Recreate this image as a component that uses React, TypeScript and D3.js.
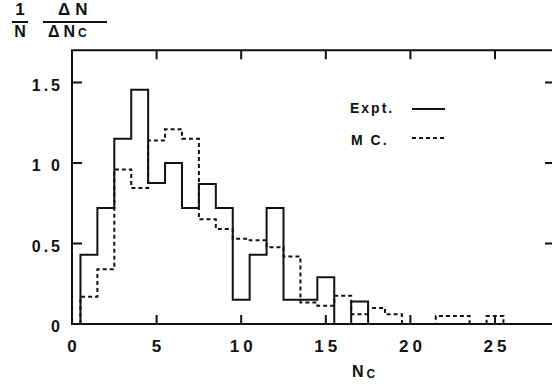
import { useEffect, useRef } from 'react';
import * as d3 from 'd3';

// bin i covers [i - 0.5, i + 0.5], starting at Nc = 1
const exptValues = [0.43, 0.72, 1.15, 1.455, 0.876, 1.0, 0.72, 0.87, 0.72, 0.15, 0.43, 0.72, 0.15, 0.15, 0.29, 0, 0.14];
const mcValues = [0.17, 0.34, 0.96, 0.845, 1.14, 1.21, 1.15, 0.65, 0.59, 0.53, 0.52, 0.476, 0.42, 0.134, 0.114, 0.176, 0.06, 0.1, 0.06, 0, 0, 0.05, 0.05, 0, 0.05];
const xTicks = [0, 5, 10, 15, 20, 25];
const yTicks = [0, 0.5, 1.0, 1.5];
const yTickLabels = ['0', '0.5', '1 0', '1.5'];

const FONT = '"Liberation Sans", Arial, sans-serif';

export default function App() {
    const svgRef = useRef<SVGSVGElement>(null);

    useEffect(() => {
        if (!svgRef.current) return;
        const svg = d3.select(svgRef.current);
        svg.selectAll('*').remove();

        const x = d3.scaleLinear().domain([0, 30]).range([72, 72 + 30 * 16.92]);
        const y = d3.scaleLinear().domain([0, 1.7]).range([324, 50.3]);
        const x0 = x(0);
        const xR = 553;
        const yTop = y(1.7);
        const yBot = y(0);

        // frame
        svg.append('path')
            .attr('d', `M${xR},${yTop}H${x0}V${yBot}H${xR}`)
            .attr('fill', 'none')
            .attr('stroke', '#111')
            .attr('stroke-width', 2);

        // x ticks (bottom up, top down)
        xTicks.filter((t) => t > 0).forEach((t) => {
            svg.append('line').attr('x1', x(t)).attr('x2', x(t)).attr('y1', yBot).attr('y2', yBot - 9)
                .attr('stroke', '#111').attr('stroke-width', 2);
            svg.append('line').attr('x1', x(t)).attr('x2', x(t)).attr('y1', yTop).attr('y2', yTop + 9)
                .attr('stroke', '#111').attr('stroke-width', 2);
        });
        // y ticks (left in, right in)
        yTicks.filter((t) => t > 0).forEach((t) => {
            svg.append('line').attr('x1', x0).attr('x2', x0 + 10).attr('y1', y(t)).attr('y2', y(t))
                .attr('stroke', '#111').attr('stroke-width', 2);
            svg.append('line').attr('x1', 545).attr('x2', xR).attr('y1', y(t)).attr('y2', y(t))
                .attr('stroke', '#111').attr('stroke-width', 2);
        });

        // tick labels
        svg.append('g')
            .selectAll('text')
            .data(xTicks)
            .enter()
            .append('text')
            .attr('x', (d) => x(d) + 2)
            .attr('y', 352)
            .attr('text-anchor', 'middle')
            .attr('font-family', FONT)
            .attr('font-weight', 'bold')
            .attr('font-size', 17)
            .attr('letter-spacing', 4)
            .attr('fill', '#111')
            .text((d) => String(d));

        svg.append('g')
            .selectAll('text')
            .data(yTicks)
            .enter()
            .append('text')
            .attr('x', 63)
            .attr('y', (d) => y(d) + 8)
            .attr('text-anchor', 'end')
            .attr('font-family', FONT)
            .attr('font-weight', 'bold')
            .attr('font-size', 16)
            .attr('letter-spacing', 3)
            .attr('fill', '#111')
            .text((_, i) => yTickLabels[i]);

        // histograms
        const steps = (vals: number[]) => {
            const pts: [number, number][] = [[0.5, 0]];
            vals.forEach((v, i) => pts.push([i + 0.5, v], [i + 1.5, v]));
            pts.push([vals.length + 0.5, 0]);
            return pts;
        };
        const line = d3.line<[number, number]>().x((d) => x(d[0])).y((d) => y(d[1]));

        svg.append('path')
            .attr('d', line(steps(mcValues)))
            .attr('fill', 'none')
            .attr('stroke', '#111')
            .attr('stroke-width', 2)
            .attr('stroke-dasharray', '4,3');

        svg.append('path')
            .attr('d', line(steps(exptValues)))
            .attr('fill', 'none')
            .attr('stroke', '#111')
            .attr('stroke-width', 2);

        // legend
        const leg = svg.append('g').attr('font-family', FONT).attr('font-weight', 'bold').attr('font-size', 14)
            .attr('letter-spacing', 2).attr('fill', '#111');
        leg.append('text').attr('x', 350).attr('y', 113).text('Expt.');
        leg.append('text').attr('x', 351).attr('y', 145).text('M  C.');
        svg.append('line').attr('x1', 412).attr('x2', 445).attr('y1', 109).attr('y2', 109)
            .attr('stroke', '#111').attr('stroke-width', 2);
        svg.append('line').attr('x1', 412).attr('x2', 447).attr('y1', 138).attr('y2', 138)
            .attr('stroke', '#111').attr('stroke-width', 2).attr('stroke-dasharray', '4,3');

        // x label
        const xl = svg.append('text').attr('x', 352).attr('y', 377).attr('font-family', FONT)
            .attr('font-weight', 'bold').attr('fill', '#111');
        xl.append('tspan').attr('font-size', 16).text('N');
        xl.append('tspan').attr('font-size', 12).attr('dx', 3).attr('dy', 1).text('C');

        // y label: 1/N  ΔN/ΔNc
        const yl = svg.append('g').attr('font-family', FONT).attr('font-weight', 'bold').attr('fill', '#111');
        yl.append('text').attr('x', 20).attr('y', 15).attr('text-anchor', 'middle').attr('font-size', 17).text('1');
        yl.append('line').attr('x1', 12).attr('x2', 28).attr('y1', 22).attr('y2', 22).attr('stroke', '#111').attr('stroke-width', 2);
        yl.append('text').attr('x', 20).attr('y', 37).attr('text-anchor', 'middle').attr('font-size', 16).text('N');
        yl.append('text').attr('x', 58).attr('y', 15).attr('font-size', 17).attr('letter-spacing', 5).text('ΔN');
        yl.append('line').attr('x1', 43).attr('x2', 107).attr('y1', 22).attr('y2', 22).attr('stroke', '#111').attr('stroke-width', 2);
        const dn = yl.append('text').attr('x', 48).attr('y', 37).attr('letter-spacing', 4);
        dn.append('tspan').attr('font-size', 16).text('ΔN');
        dn.append('tspan').attr('font-size', 12).attr('dx', -1).text('C');
    }, []);

    return (
        <svg
            ref={svgRef}
            width={552}
            height={385}
            style={{ position: 'absolute', left: 0, top: 0, background: '#fff' }}
        />
    );
}
